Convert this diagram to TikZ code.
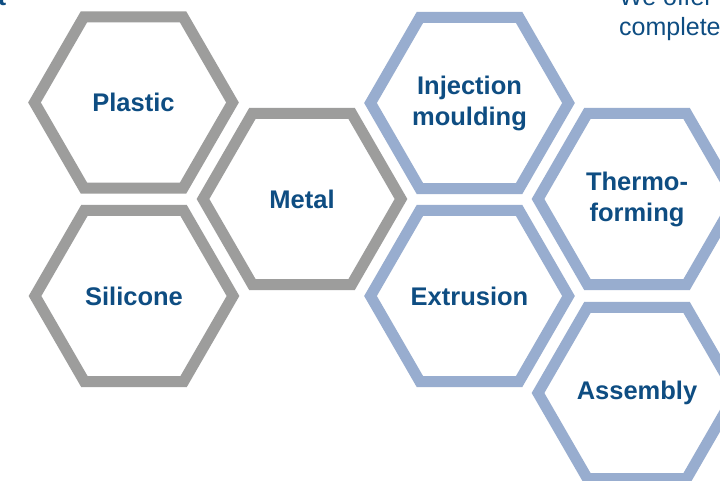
\documentclass[tikz,border=0pt]{standalone}
\usepackage{fontspec}
\setmainfont{Liberation Sans}
\definecolor{hexgray}{HTML}{9D9D9C}
\definecolor{hexblue}{HTML}{98ADCF}
\definecolor{txtblue}{HTML}{0E4D82}
\tikzset{
  lbl/.style={font=\bfseries\fontsize{25.5}{31}\selectfont, text=txtblue, align=center, inner sep=0pt},
  body/.style={font=\fontsize{25}{30}\selectfont, text=txtblue, inner sep=0pt},
  hexg/.style={draw=hexgray, line width=11pt, line join=miter},
  hexb/.style={draw=hexblue, line width=11pt, line join=miter},
}
\newcommand{\hexat}[2]{\draw[#1, shift={(#2.center)}] (0:99pt) -- (60:99pt) -- (120:99pt) -- (180:99pt) -- (240:99pt) -- (300:99pt) -- cycle;}
\begin{document}
\begin{tikzpicture}
\useasboundingbox (0,0) rectangle (720pt,-481pt);
\clip (0,0) rectangle (720pt,-481pt);
\fill[white] (0,0) rectangle (720pt,-481pt);
% text nodes
\node[lbl] (plastic) at (133.5pt,-102.5pt) {Plastic};
\node[lbl] (silicone) at (134pt,-296pt) {Silicone};
\node[lbl] (metal) at (302pt,-199pt) {Metal};
\node[lbl] (inj) at (469.5pt,-103pt) {Injection\\moulding};
\node[lbl] (extr) at (469.5pt,-296pt) {Extrusion};
\node[lbl] (thermo) at (637pt,-199pt) {Thermo-\\forming};
\node[lbl] (assem) at (637pt,-393pt) {Assembly};
% hexagons
\hexat{hexg}{plastic}
\hexat{hexg}{silicone}
\hexat{hexg}{metal}
\hexat{hexb}{inj}
\hexat{hexb}{extr}
\hexat{hexb}{thermo}
\hexat{hexb}{assem}
% cut-off texts
\node[body, anchor=base west] (we) at (619pt,-6pt) {We offer you};
\node[body, anchor=base west] (compl) at (619pt,-36pt) {complete};
\node[body, font=\bfseries\fontsize{25}{30}\selectfont, anchor=base east] (tt) at (6.5pt,-6pt) {t};
\end{tikzpicture}
\end{document}
